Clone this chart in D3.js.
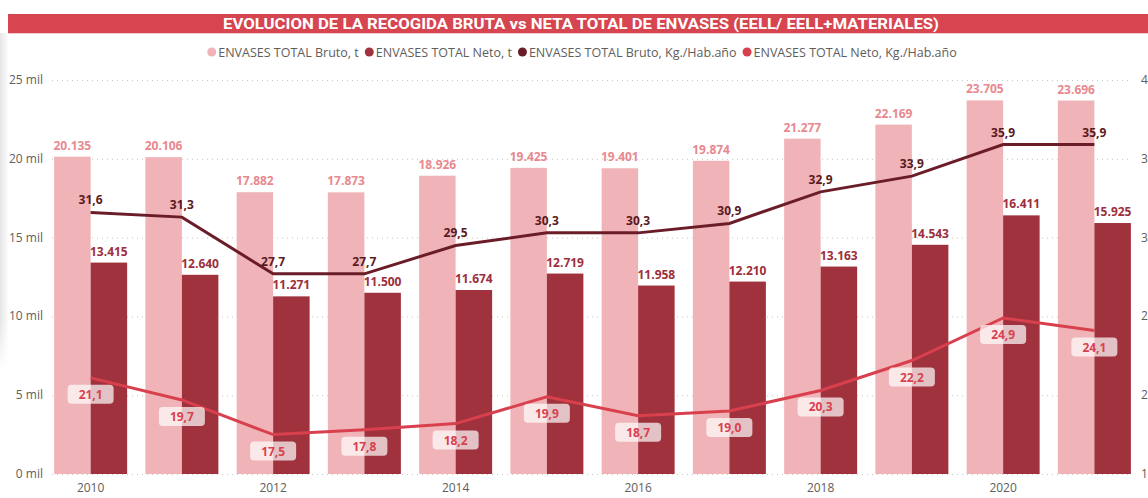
<!DOCTYPE html>
<html>
<head>
<meta charset="utf-8">
<script src="https://cdn.jsdelivr.net/npm/d3@7"></script>
<style>
  body { margin: 0; background: #fff; }
  svg { display: block; }
  .axis text { font-family: "Open Sans", sans-serif; font-size: 12px; fill: #605e5c; }
  .lbl { font-family: "Open Sans", sans-serif; font-size: 12px; font-weight: 700; }
</style>
</head>
<body>
<svg id="chart" width="1148" height="498"></svg>
<script>
// chart data
const years = [2010, 2011, 2012, 2013, 2014, 2015, 2016, 2017, 2018, 2019, 2020, 2021];
const brutoT = [20135, 20106, 17882, 17873, 18926, 19425, 19401, 19874, 21277, 22169, 23705, 23696];
const netoT = [13415, 12640, 11271, 11500, 11674, 12719, 11958, 12210, 13163, 14543, 16411, 15925];
const brutoKg = [31.6, 31.3, 27.7, 27.7, 29.5, 30.3, 30.3, 30.9, 32.9, 33.9, 35.9, 35.9];
const netoKg = [21.1, 19.7, 17.5, 17.8, 18.2, 19.9, 18.7, 19.0, 20.3, 22.2, 24.9, 24.1];
const leftTicks = [0, 5000, 10000, 15000, 20000, 25000];
const rightTicks = [15, 20, 25, 30, 35, 40];
const xTickYears = [2010, 2012, 2014, 2016, 2018, 2020];
const legendNames = ["ENVASES TOTAL Bruto, t", "ENVASES TOTAL Neto, t", "ENVASES TOTAL Bruto, Kg./Hab.año", "ENVASES TOTAL Neto, Kg./Hab.año"];
const titleText = "EVOLUCION DE LA RECOGIDA BRUTA vs NETA TOTAL DE ENVASES (EELL/ EELL+MATERIALES)";

const colBruto = "#f0b4b8", colNeto = "#a0323d", colBrutoKg = "#6b1d27", colNetoKg = "#d9404e";

const loc = d3.formatLocale({decimal: ",", thousands: ".", grouping: [3], currency: ["", "€"]});
const fmtT = loc.format(",d");
const fmtKg = loc.format(".1f");

let svg = d3.select("#chart");

// left panel shadow
let defs = svg.append("defs");
let g1 = defs.append("linearGradient").attr("id", "shadowH");
g1.append("stop").attr("offset", "0%").attr("stop-color", "#000").attr("stop-opacity", 0.10);
g1.append("stop").attr("offset", "100%").attr("stop-color", "#000").attr("stop-opacity", 0);
let g2 = defs.append("linearGradient").attr("id", "fadeV").attr("x1", 0).attr("y1", 0).attr("x2", 0).attr("y2", 1);
g2.append("stop").attr("offset", "0%").attr("stop-color", "#fff").attr("stop-opacity", 1);
g2.append("stop").attr("offset", "85%").attr("stop-color", "#fff").attr("stop-opacity", 1);
g2.append("stop").attr("offset", "100%").attr("stop-color", "#fff").attr("stop-opacity", 0);
defs.append("mask").attr("id", "shadowMask")
    .append("rect").attr("x", 0).attr("y", 33).attr("width", 10).attr("height", 340).attr("fill", "url(#fadeV)");
svg.append("rect").attr("x", 0).attr("y", 33).attr("width", 9).attr("height", 340)
    .attr("fill", "url(#shadowH)").attr("mask", "url(#shadowMask)");

// title bar
svg.append("rect").attr("x", 8).attr("y", 14).attr("width", 1140).attr("height", 19).attr("fill", "#d64550");
svg.append("rect").attr("x", 8).attr("y", 33).attr("width", 1140).attr("height", 1).attr("fill", "#f2c9cc");
svg.append("text")
    .attr("x", 581).attr("y", 28.5)
    .attr("text-anchor", "middle")
    .attr("textLength", 716).attr("lengthAdjust", "spacingAndGlyphs")
    .style("font-family", "'Liberation Sans Narrow', 'Roboto', sans-serif")
    .style("font-weight", 700).style("font-size", "15px").style("fill", "#fff")
    .text(titleText);

// legend
let legendColors = [colBruto, colNeto, colBrutoKg, colNetoKg];
let legend = svg.append("g").attr("class", "legend");
let lx = 0;
legendNames.forEach(function(name, i) {
    let item = legend.append("g").attr("transform", "translate(" + lx + ",0)");
    item.append("circle").attr("cx", 4.5).attr("cy", 0).attr("r", 4.5).attr("fill", legendColors[i]);
    let t = item.append("text").attr("x", 11).attr("y", 4.5)
        .style("font-family", "'Open Sans', sans-serif").style("font-size", "12.5px").style("fill", "#605e5c")
        .text(name);
    lx += 11 + t.node().getComputedTextLength() + 6;
});
legend.attr("transform", "translate(" + (585 - lx / 2) + ",52)");

// scales
let x = d3.scaleBand().domain(years).range([45, 1140]).paddingInner(0.2).paddingOuter(0.1);
let yL = d3.scaleLinear().domain([0, 25000]).range([474, 80]);
let yR = d3.scaleLinear().domain([15, 40]).range([474, 80]);
let bw = x.bandwidth() / 2;

// gridlines
svg.append("g").selectAll("line").data(leftTicks).enter().append("line")
    .attr("x1", 52).attr("x2", 1132)
    .attr("y1", d => yL(d) + 0.5).attr("y2", d => yL(d) + 0.5)
    .attr("stroke", "#c8c6c4").attr("stroke-dasharray", "1,4");

// axes
let axL = svg.append("g").attr("class", "axis");
axL.selectAll("text").data(leftTicks).enter().append("text")
    .attr("x", 43).attr("y", d => yL(d) + 4).attr("text-anchor", "end")
    .text(d => (d / 1000) + " mil");
let axR = svg.append("g").attr("class", "axis");
axR.selectAll("text").data(rightTicks).enter().append("text")
    .attr("x", 1141).attr("y", d => yR(d) + 4)
    .text(d => d);
let axX = svg.append("g").attr("class", "axis");
axX.selectAll("text").data(xTickYears).enter().append("text")
    .attr("x", d => x(d) + x.bandwidth() / 2).attr("y", 492).attr("text-anchor", "middle")
    .text(d => d);

// bars
svg.append("g").selectAll("rect").data(years).enter().append("rect")
    .attr("x", d => x(d)).attr("width", bw)
    .attr("y", (d, i) => yL(brutoT[i])).attr("height", (d, i) => yL(0) - yL(brutoT[i]))
    .attr("fill", colBruto);
svg.append("g").selectAll("rect").data(years).enter().append("rect")
    .attr("x", d => x(d) + bw).attr("width", bw)
    .attr("y", (d, i) => yL(netoT[i])).attr("height", (d, i) => yL(0) - yL(netoT[i]))
    .attr("fill", colNeto);

// lines
let cx = d => x(d) + x.bandwidth() / 2;
let lineB = d3.line().x((d, i) => cx(years[i])).y(d => yR(d));
svg.append("path").datum(brutoKg).attr("d", lineB)
    .attr("fill", "none").attr("stroke", colBrutoKg).attr("stroke-width", 3);
svg.append("path").datum(netoKg).attr("d", lineB)
    .attr("fill", "none").attr("stroke", colNetoKg).attr("stroke-width", 3);

// bar labels
svg.append("g").selectAll("text").data(years).enter().append("text")
    .attr("class", "lbl").attr("text-anchor", "middle").style("fill", "#e8888f")
    .attr("x", d => x(d) + bw / 2).attr("y", (d, i) => yL(brutoT[i]) - 7)
    .text((d, i) => fmtT(brutoT[i]));
svg.append("g").selectAll("text").data(years).enter().append("text")
    .attr("class", "lbl").attr("text-anchor", "middle").style("fill", "#9c2f3b")
    .attr("x", d => x(d) + bw * 1.5).attr("y", (d, i) => yL(netoT[i]) - 7)
    .text((d, i) => fmtT(netoT[i]));

// line labels
svg.append("g").selectAll("text").data(years).enter().append("text")
    .attr("class", "lbl").attr("text-anchor", "middle").style("fill", "#5a1a22")
    .attr("x", d => cx(d)).attr("y", (d, i) => yR(brutoKg[i]) - 8)
    .text((d, i) => fmtKg(brutoKg[i]));
let nl = svg.append("g").selectAll("g").data(years).enter().append("g")
    .attr("transform", (d, i) => "translate(" + cx(d) + "," + yR(netoKg[i]) + ")");
nl.append("rect").attr("x", -23).attr("y", 7).attr("width", 46).attr("height", 19).attr("rx", 4)
    .attr("fill", "#fff").attr("fill-opacity", 0.7);
nl.append("text").attr("class", "lbl").attr("text-anchor", "middle").style("fill", "#d9404e")
    .attr("y", 21).text((d, i) => fmtKg(netoKg[i]));
</script>
</body>
</html>
